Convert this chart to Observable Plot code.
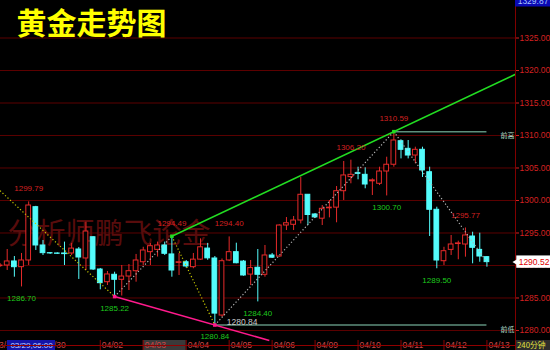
<!DOCTYPE html>
<html>
<head>
<meta charset="utf-8">
<script src="https://cdn.jsdelivr.net/npm/d3@7"></script>
<script src="https://cdn.jsdelivr.net/npm/@observablehq/plot@0.6"></script>
<style>
  html, body { margin: 0; padding: 0; background: #000; }
  #chart svg, #band svg { display: block; }
</style>
</head>
<body>
<div id="chart"></div>
<div id="band"></div>
<script>
// 240-minute gold bars (index 0 is the partly hidden bar on the left edge)
const opens = [1289.9, 1290.0, 1290.62, 1289.74, 1290.77, 1298.97, 1293.08, 1291.9, 1291.85, 1291.85,
  1291.85, 1292.46, 1291.08, 1294.35, 1289.38, 1287.43, 1288.57, 1287.8, 1288.3, 1289.12,
  1290.5, 1292.05, 1292.4, 1293.08, 1291.7, 1290.4, 1290.5, 1289.74, 1290.9, 1292.6,
  1291.08, 1282.3, 1290.77, 1292.05, 1290.6, 1288.6, 1289.65, 1288.57, 1291.54, 1291.38,
  1296.15, 1296.26, 1296.92, 1300.88, 1297.85, 1297.2, 1298.8, 1298.9, 1301.43, 1303.6,
  1304.2, 1303.95, 1302.95, 1302.57, 1304.46, 1305.5, 1309.12, 1307.95, 1306.92, 1307.8,
  1304.35, 1298.57, 1290.66, 1292.4, 1293.3, 1293.23, 1294.46, 1292.4, 1291.28];
const highs = [1290.3, 1292.46, 1291.38, 1291.85, 1299.79, 1299.1, 1293.85, 1292.0, 1291.95, 1293.6,
  1293.4, 1292.77, 1296.66, 1294.4, 1289.54, 1289.08, 1288.97, 1290.0, 1290.15, 1291.7,
  1292.8, 1293.38, 1293.6, 1293.6, 1294.49, 1291.85, 1290.77, 1291.85, 1294.1, 1293.4,
  1291.38, 1291.0, 1294.40, 1293.43, 1290.77, 1290.77, 1292.46, 1293.08, 1291.85, 1296.26,
  1297.38, 1297.54, 1303.58, 1300.9, 1298.0, 1299.23, 1300.0, 1302.15, 1306.0, 1306.20,
  1305.12, 1305.03, 1303.33, 1305.12, 1306.66, 1310.59, 1309.33, 1309.23, 1308.2, 1308.2,
  1305.12, 1298.97, 1292.8, 1294.62, 1293.74, 1295.77, 1295.12, 1294.97, 1291.38];
const lows = [1289.7, 1289.23, 1288.2, 1286.70, 1290.0, 1292.31, 1291.54, 1291.7, 1291.7, 1290.0,
  1291.54, 1287.85, 1289.23, 1289.23, 1286.26, 1286.92, 1285.22, 1285.3, 1286.15, 1287.43,
  1290.0, 1290.0, 1291.3, 1291.54, 1288.2, 1288.46, 1289.6, 1289.5, 1290.77, 1290.8,
  1280.84, 1282.05, 1290.6, 1290.26, 1288.35, 1286.92, 1284.40, 1288.2, 1291.08, 1291.28,
  1295.38, 1295.38, 1296.4, 1296.15, 1297.23, 1296.15, 1297.33, 1296.57, 1300.0, 1302.57,
  1303.18, 1301.8, 1300.77, 1302.3, 1300.70, 1305.12, 1306.4, 1306.4, 1305.65, 1303.54,
  1294.46, 1289.50, 1290.0, 1291.54, 1290.88, 1291.28, 1290.26, 1290.5, 1289.74];
const closes = [1290.0, 1290.62, 1289.74, 1290.77, 1299.23, 1293.08, 1291.9, 1291.85, 1291.8, 1291.75,
  1292.6, 1291.23, 1295.23, 1289.38, 1287.28, 1288.62, 1287.8, 1288.3, 1289.12, 1290.77,
  1292.31, 1292.97, 1293.08, 1291.8, 1289.23, 1290.5, 1289.85, 1290.9, 1292.8, 1291.1,
  1282.6, 1290.66, 1292.05, 1290.35, 1288.46, 1289.6, 1288.57, 1291.54, 1291.2, 1296.15,
  1296.5, 1296.92, 1300.88, 1297.77, 1297.4, 1298.72, 1298.9, 1301.43, 1303.85, 1303.95,
  1304.1, 1302.46, 1303.1, 1304.46, 1305.5, 1309.23, 1307.8, 1306.92, 1307.8, 1304.62,
  1298.57, 1290.77, 1292.2, 1293.23, 1293.4, 1294.62, 1292.72, 1291.38, 1290.52];

// session starts on the time axis (bar index) and their labels
const dayStarts = [-1, 6, 14, 20, 26, 32, 38, 44, 50, 56, 62, 68];
const dayLabels = ["03/29", "03/30", "04/02", "04/03", "04/04", "04/05", "04/06", "04/09", "04/10", "04/11", "04/12", "04/13"];

// price axis ticks
const yTicks = [1280, 1285, 1290, 1295, 1300, 1305, 1310, 1315, 1320, 1325];

// zigzag pivots (bar index, price) and the colour of each leg
const zigIdx = [0, 16, 24, 30, 55, 68];
const zigPrice = [1301.5, lows[16], highs[24], lows[30], highs[55], closes[68]];
const zigKind = ["yellow", "grey", "yellow", "grey", "grey"];

// bars whose extremes are annotated
const highMarked = [4, 24, 32, 49, 55, 65];
const lowMarked = [3, 16, 30, 36, 54, 61];

const topPrice = 1329.87;

const RED = "#e62a2a", CYAN = "#54fcfc";
const xDomain = [0.064, 71.99];
const yDomain = [1278.46, 1330.77];

const bars = opens.map((o, i) => ({i, o, h: highs[i], l: lows[i], c: closes[i]}));
const up = bars.filter(d => d.c >= d.o);
const down = bars.filter(d => d.c < d.o);

const legs = zigKind.map((k, j) => ({k, x1: zigIdx[j], y1: zigPrice[j], x2: zigIdx[j + 1], y2: zigPrice[j + 1]}));

// trend line through two pivots, extended until it leaves the plotting frame
function extend(ia, pa, ib, pb) {
  const s = (pb - pa) / (ib - ia);
  let iEnd = xDomain[1];
  const pEnd = pb + s * (iEnd - ib);
  if (pEnd < yDomain[0]) iEnd = ib + (yDomain[0] - pb) / s;
  if (pEnd > yDomain[1]) iEnd = ib + (yDomain[1] - pb) / s;
  return [{x1: ia, y1: pa, x2: iEnd, y2: pb + s * (iEnd - ib)}];
}
const resist = extend(24, highs[24], 55, highs[55]);
const support = extend(16, lows[16], 30, lows[30]);

const highLbl = highMarked.map(i => ({i, p: highs[i]}));
const lowLbl = lowMarked.map(i => ({i, p: lows[i]}));
const fmt = d3.format(".2f");
const xMax = xDomain[1];
const last = closes[closes.length - 1];

const chart = Plot.plot({
  width: 550,
  height: 340,
  marginLeft: 0,
  marginRight: 35,
  marginTop: 0,
  marginBottom: 0,
  x: {domain: xDomain, axis: null},
  y: {domain: yDomain, axis: null},
  style: {background: "#000", color: "#fff", overflow: "visible", fontFamily: "'Liberation Sans', Arial, sans-serif"},
  marks: [
    Plot.gridY(yTicks, {stroke: "#5c0000", strokeOpacity: 1}),
    Plot.text(["分析师鹏飞论金"], {
      text: d => d, frameAnchor: "top-left", dx: 7, dy: 234, textAnchor: "start", lineAnchor: "middle",
      fontSize: 29, fill: "#580c0c", fontFamily: "'Noto Sans CJK SC'"
    }),
    Plot.text(["黄金走势图"], {
      text: d => d, frameAnchor: "top-left", dx: 16, dy: 12, textAnchor: "start", lineAnchor: "top",
      fontSize: 30, fontWeight: "bold", fill: "#ffff00", fontFamily: "'Noto Sans CJK SC'"
    }),
    // previous high / low levels
    Plot.ruleY([{p: highs[55], a: 55, b: 68}], {y: "p", x1: "a", x2: "b", stroke: "#5e8f7c", strokeWidth: 1.5}),
    Plot.ruleY([{p: lows[30], a: 30, b: 68}], {y: "p", x1: "a", x2: "b", stroke: "#5e8f7c", strokeWidth: 1.5}),
    Plot.text([highs[55]], {x: xMax, y: d => d, text: () => "前高", textAnchor: "end", dx: -1, dy: 4, fontSize: 7, fill: "#a8d4c2", fontFamily: "'Noto Sans CJK SC'"}),
    Plot.text([lows[30]], {x: xMax, y: d => d, text: () => "前低", textAnchor: "end", dx: -1, dy: 5, fontSize: 7, fill: "#a8d4c2", fontFamily: "'Noto Sans CJK SC'"}),
    // candles
    Plot.ruleX(up, {x: "i", y1: "l", y2: "h", stroke: RED}),
    Plot.ruleX(down, {x: "i", y1: "l", y2: "h", stroke: CYAN}),
    Plot.rect(up, {x1: d => d.i - 0.33, x2: d => d.i + 0.33, y1: "o", y2: "c", fill: "#000", stroke: RED}),
    Plot.rect(down, {x1: d => d.i - 0.33, x2: d => d.i + 0.33, y1: "o", y2: "c", fill: CYAN, stroke: CYAN}),
    // zigzag legs
    Plot.link(legs.filter(d => d.k === "yellow"), {x1: "x1", y1: "y1", x2: "x2", y2: "y2", stroke: "#c8c800", strokeDasharray: "1.2,2.2", strokeWidth: 1.2}),
    Plot.link(legs.filter(d => d.k === "grey"), {x1: "x1", y1: "y1", x2: "x2", y2: "y2", stroke: "#b4b4b4", strokeDasharray: "1.2,2.2", strokeWidth: 1.2}),
    // trend lines
    Plot.link(resist, {x1: "x1", y1: "y1", x2: "x2", y2: "y2", stroke: "#22dd22", strokeWidth: 1.6}),
    Plot.link(support, {x1: "x1", y1: "y1", x2: "x2", y2: "y2", stroke: "#ff1a8c", strokeWidth: 1.6}),
    Plot.dot([24, 55], {x: d => d, y: d => highs[d], symbol: "square", r: 2, fill: "#22dd22"}),
    Plot.dot([16, 30], {x: d => d, y: d => lows[d], symbol: "square", r: 2, fill: "#ff1a8c"}),
    // extreme value labels
    Plot.text(highLbl, {x: "i", y: "p", text: d => fmt(d.p), dy: -13, fontSize: 8, fill: "#d42020"}),
    Plot.text(lowLbl, {x: "i", y: "p", text: d => fmt(d.p), dy: 11.5, fontSize: 8, fill: "#1ec81e"}),
    Plot.text([lows[30]], {x: 30, y: d => d, text: d => fmt(d), textAnchor: "start", dx: 12, dy: -3, fontSize: 8.5, fill: "#c8c8c8"}),
    // right price axis
    Plot.ruleX([xMax], {stroke: "#800000"}),
    Plot.axisY(yTicks, {anchor: "right", tickSize: 3, tickPadding: 1, tickFormat: fmt, fontSize: 8.5, color: "#d42020"}),
    // last price tag
    Plot.rect([last], {x1: xMax + 0.18, x2: xMax + 5.2, y1: d => d - 0.95, y2: d => d + 0.95, fill: "#fff"}),
    Plot.dot([last], {x: xMax + 0.22, y: d => d, symbol: "triangle", r: 3, rotate: -90, fill: "#fff"}),
    Plot.text([last], {x: xMax + 0.3, y: d => d, text: d => fmt(d), textAnchor: "start", dx: 1, fontSize: 8.5, fill: "#e00000"}),
    // top-edge price tag
    Plot.rect([topPrice], {x1: xMax, x2: xMax + 5.2, y1: d => d - 0.1, y2: yDomain[1], fill: "#0a0ab4"}),
    Plot.text([topPrice], {x: xMax + 0.3, y: yDomain[1], text: () => fmt(topPrice), textAnchor: "start", lineAnchor: "middle", dy: 1, fontSize: 8.5, fill: "#a8c4ff"})
  ]
});
document.getElementById("chart").append(chart);

// time axis strip under the chart
const band = Plot.plot({
  width: 550,
  height: 10,
  marginLeft: 0,
  marginRight: 35,
  marginTop: 0,
  marginBottom: 0,
  x: {domain: xDomain, axis: null},
  y: {axis: null},
  style: {background: "transparent", color: "#fff", fontFamily: "'Liberation Sans', Arial, sans-serif"},
  marks: [
    Plot.rect([{a: 20, b: 26}], {x1: "a", x2: "b", fill: "#3a3a3a"}),
    Plot.ruleX(dayStarts, {stroke: "#8a0000"}),
    Plot.text(dayStarts, {x: d => d, text: (d, i) => dayLabels[i], frameAnchor: "middle", textAnchor: "start", dx: 1.5, fontSize: 8.5, fill: "#c84646"}),
    Plot.rect([{a: 1.04, b: 7.75}], {x1: "a", x2: "b", fill: "#1414a8"}),
    Plot.text(["03/29,06:00"], {x: 4.4, text: d => d, frameAnchor: "middle", fontSize: 8, fill: "#c8d8ff"}),
    Plot.rect([{a: xMax, b: xMax + 5.2}], {x1: "a", x2: "b", fill: "#2c2c2c"}),
    Plot.text(["240分钟"], {x: xMax, text: d => d, frameAnchor: "middle", textAnchor: "start", dx: 1.5, fontSize: 7.8, fill: "#e0e040", fontFamily: "'Noto Sans CJK SC'"}),
    Plot.ruleY([0], {y: null, frameAnchor: "top", stroke: "#900000"}),
    Plot.ruleX([xMax], {stroke: "#800000"})
  ]
});
document.getElementById("band").append(band);
</script>
</body>
</html>
